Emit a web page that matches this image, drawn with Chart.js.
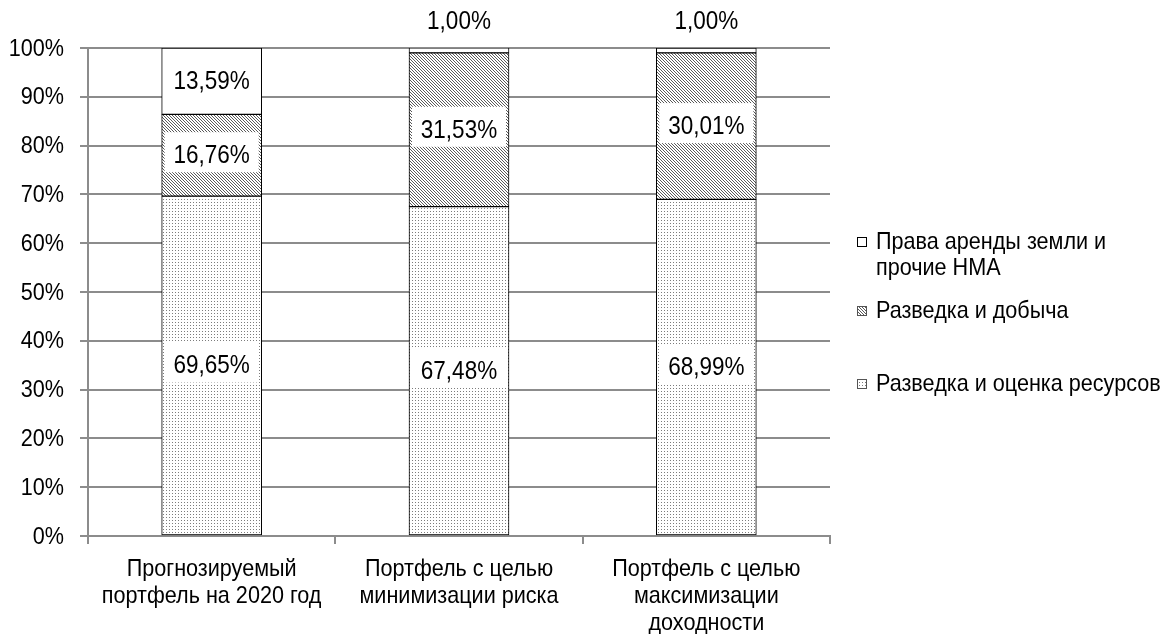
<!DOCTYPE html>
<html lang="ru">
<head>
<meta charset="utf-8">
<title>Структура портфеля</title>
<script src="https://cdn.jsdelivr.net/npm/chart.js@4.4.1/dist/chart.umd.min.js"></script>
<style>
  html, body { margin: 0; padding: 0; background: #fff; }
  #wrap { width: 1171px; height: 634px; position: relative; }
</style>
</head>
<body>
<div id="wrap"><canvas id="chart" width="1171" height="634"></canvas></div>
<script>
// Categories (portfolios) and shares of each asset group, %
const categories = [
  ['Прогнозируемый', 'портфель на 2020 год'],
  ['Портфель с целью', 'минимизации риска'],
  ['Портфель с целью', 'максимизации', 'доходности']
];
const seriesNames = [
  'Разведка и оценка ресурсов',
  'Разведка и добыча',
  'Права аренды земли и прочие НМА'
];
const exploreAssess = [69.65, 67.48, 68.99];
const exploreProduce = [16.76, 31.53, 30.01];
const landRights = [13.59, 1.00, 1.00];
const yTicks = [0, 10, 20, 30, 40, 50, 60, 70, 80, 90, 100];

// Narrow sans text: Liberation Sans squeezed horizontally
const FONT = "'Liberation Sans', Arial, sans-serif";
const SQUEEZE = 0.9;
function narrowText(ctx, text, x, y, size, align) {
  ctx.save();
  ctx.font = size + 'px ' + FONT;
  ctx.textAlign = align || 'center';
  ctx.textBaseline = 'middle';
  ctx.fillStyle = '#000000';
  ctx.translate(x, y);
  ctx.scale(SQUEEZE, 1);
  ctx.fillText(text, 0, 0);
  ctx.restore();
}
function narrowWidth(ctx, text, size) {
  ctx.save();
  ctx.font = size + 'px ' + FONT;
  const w = ctx.measureText(text).width * SQUEEZE;
  ctx.restore();
  return w;
}

// Fill patterns
function dotPattern() {
  const c = document.createElement('canvas');
  c.width = 3; c.height = 3;
  const g = c.getContext('2d');
  g.fillStyle = '#ffffff'; g.fillRect(0, 0, 3, 3);
  g.fillStyle = '#7c7c7c'; g.fillRect(1, 1, 1, 1);
  return g.createPattern(c, 'repeat');
}
function hatchPattern() {
  const c = document.createElement('canvas');
  c.width = 3; c.height = 3;
  const g = c.getContext('2d');
  g.fillStyle = '#ffffff'; g.fillRect(0, 0, 3, 3);
  g.fillStyle = '#5a5a5a';
  for (let i = 0; i < 3; i++) g.fillRect(i, i, 1, 1);
  return g.createPattern(c, 'repeat');
}
const fills = [dotPattern(), hatchPattern(), '#ffffff'];

const fmt = v => v.toFixed(2).replace('.', ',') + '%';

// Axis labels
const axisText = {
  id: 'axisText',
  afterDraw(chart, args, opts) {
    const ctx = chart.ctx;
    const ys = chart.scales.y, xs = chart.scales.x;
    yTicks.forEach(v => {
      narrowText(ctx, v + '%', ys.left + ys.width - opts.yGap, ys.getPixelForValue(v) + 1, opts.size, 'right');
    });
    chart.data.labels.forEach((lab, i) => {
      const x = xs.getPixelForValue(i);
      lab.forEach((ln, j) => narrowText(ctx, ln, x, opts.xTop + j * opts.lineHeight, opts.size, 'center'));
    });
  }
};

// Value labels on white boxes inside each segment (above the bar when the segment is too thin)
const valueLabels = {
  id: 'valueLabels',
  afterDatasetsDraw(chart, args, opts) {
    const ctx = chart.ctx;
    chart.data.datasets.forEach((ds, di) => {
      const meta = chart.getDatasetMeta(di);
      meta.data.forEach((bar, i) => {
        const txt = fmt(ds.data[i]);
        const h = Math.abs(bar.base - bar.y);
        let cy = (bar.y + bar.base) / 2;
        if (h < 30) {
          cy = bar.y - 27;
        } else {
          const bw = bar.width - 6;
          const bh = Math.min(40, h - 6);
          ctx.save();
          ctx.fillStyle = '#ffffff';
          ctx.fillRect(bar.x - bw / 2, cy - bh / 2 - 3, bw, bh);
          ctx.restore();
        }
        narrowText(ctx, txt, bar.x, cy + 1, opts.size, 'center');
      });
    });
  }
};

// Legend on the right, in reverse stacking order
const sideLegend = {
  id: 'sideLegend',
  afterDraw(chart, args, opts) {
    const ctx = chart.ctx;
    const items = chart.data.datasets.map((ds, i) => ({ ds, i })).reverse();
    items.forEach((it, k) => {
      const y = opts.rows[k];
      const words = it.ds.label.split(' ');
      const lines = [];
      let cur = '';
      words.forEach(wd => {
        const t = cur ? cur + ' ' + wd : wd;
        if (narrowWidth(ctx, t, opts.size) > opts.maxWidth && cur) { lines.push(cur); cur = wd; }
        else cur = t;
      });
      lines.push(cur);
      ctx.save();
      ctx.fillStyle = it.ds.backgroundColor;
      ctx.fillRect(opts.x, y - 5, 10, 10);
      ctx.strokeStyle = it.i === 2 ? '#000000' : '#555555';
      ctx.lineWidth = 1;
      ctx.strokeRect(opts.x + 0.5, y - 4.5, 9, 9);
      ctx.restore();
      lines.forEach((ln, j) => narrowText(ctx, ln, opts.x + 19, y + j * opts.lineHeight, opts.size, 'left'));
    });
  }
};

const grid = '#8c8c8c';

new Chart(document.getElementById('chart'), {
  type: 'bar',
  data: {
    labels: categories,
    datasets: [
      { label: seriesNames[0], data: exploreAssess, backgroundColor: fills[0] },
      { label: seriesNames[1], data: exploreProduce, backgroundColor: fills[1] },
      { label: seriesNames[2], data: landRights, backgroundColor: fills[2] }
    ].map(d => Object.assign(d, {
      borderColor: '#000000', borderWidth: 1, borderSkipped: false, barThickness: 100
    }))
  },
  options: {
    responsive: false,
    animation: false,
    layout: { padding: { top: 48, right: 341, left: 0, bottom: 0 } },
    plugins: {
      legend: { display: false },
      tooltip: { enabled: false },
      valueLabels: { size: 25 },
      axisText: { size: 24, yGap: 24, xTop: 569, lineHeight: 27 },
      sideLegend: { x: 857, rows: [242, 311, 384], lineHeight: 26, maxWidth: 300, size: 24 }
    },
    scales: {
      x: {
        stacked: true,
        afterFit: s => { s.height = 98; },
        grid: { display: true, drawOnChartArea: false, drawTicks: true, tickLength: 8, offset: true, color: grid, lineWidth: 2 },
        border: { display: true, color: grid, width: 2 },
        ticks: { display: false, autoSkip: false }
      },
      y: {
        stacked: true,
        min: 0, max: 100,
        afterFit: s => { s.width = 88; },
        afterBuildTicks: s => { s.ticks = yTicks.map(v => ({ value: v })); },
        grid: { color: grid, lineWidth: 2, tickLength: 8 },
        border: { display: true, color: grid, width: 2 },
        ticks: { display: false }
      }
    }
  },
  plugins: [valueLabels, axisText, sideLegend]
});
</script>
</body>
</html>
